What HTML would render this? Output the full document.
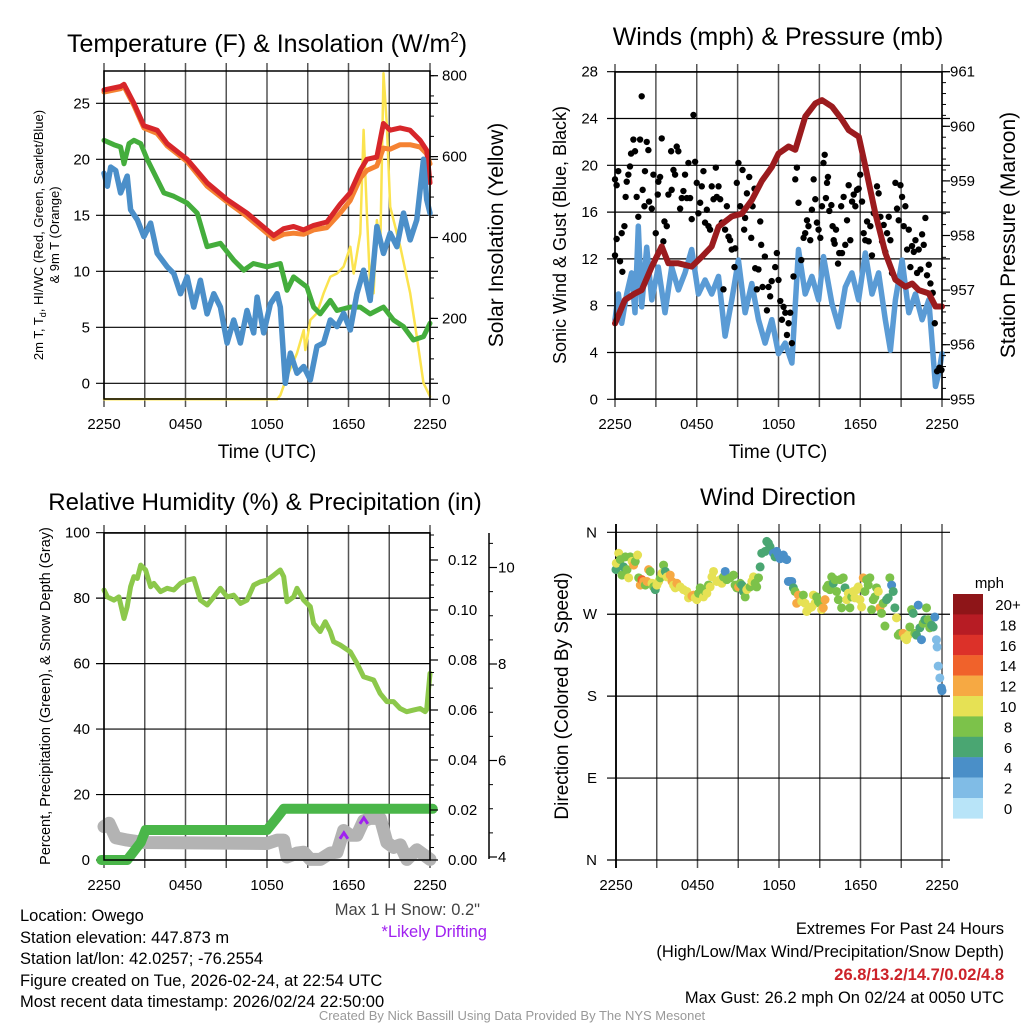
<!DOCTYPE html>
<html><head><meta charset="utf-8"><style>
html,body{margin:0;padding:0;background:#fff;}
svg{display:block;font-family:"Liberation Sans",sans-serif;}
.n{font-family:"Liberation Sans",sans-serif;}
</style></head><body>
<svg id="s" width="1024" height="1024" viewBox="0 0 1024 1024" xmlns="http://www.w3.org/2000/svg">
<g id="grid"></g><g id="marks"></g><g id="axes"></g>
<text x="267" y="52" font-size="25" text-anchor="middle">Temperature (F) &amp; Insolation (W/m<tspan font-size="15" dy="-10">2</tspan><tspan dy="10">)</tspan></text>
<text x="778" y="45" font-size="25" text-anchor="middle">Winds (mph) &amp; Pressure (mb)</text>
<text x="265" y="510" font-size="24" text-anchor="middle">Relative Humidity (%) &amp; Precipitation (in)</text>
<text x="778" y="505" font-size="24" text-anchor="middle">Wind Direction</text>
<text x="267" y="458" font-size="19" text-anchor="middle">Time (UTC)</text>
<text x="778" y="458" font-size="19" text-anchor="middle">Time (UTC)</text>
<g font-size="13" text-anchor="middle">
<text transform="translate(43,235) rotate(-90)">2m T, T<tspan font-size="9" dy="3">d</tspan><tspan dy="-3">, HI/WC (Red, Green, Scarlet/Blue)</tspan></text>
<text transform="translate(59,235) rotate(-90)">&amp; 9m T (Orange)</text></g>
<text transform="translate(503,235) rotate(-90)" font-size="21" text-anchor="middle">Solar Insolation (Yellow)</text>
<text transform="translate(566,235) rotate(-90)" font-size="18" text-anchor="middle">Sonic Wind &amp; Gust (Blue, Black)</text>
<text transform="translate(1015,235) rotate(-90)" font-size="21" text-anchor="middle">Station Pressure (Maroon)</text>
<text transform="translate(50,696) rotate(-90)" font-size="14.5" text-anchor="middle">Percent, Precipitation (Green), &amp; Snow Depth (Gray)</text>
<text transform="translate(568,696) rotate(-90)" font-size="19" text-anchor="middle">Direction (Colored By Speed)</text>
<text x="1004" y="588" font-size="15" text-anchor="end">mph</text>
<g class="n" font-size="16.5">
<text x="20" y="921">Location: Owego</text>
<text x="20" y="943">Station elevation: 447.873 m</text>
<text x="20" y="964">Station lat/lon: 42.0257; -76.2554</text>
<text x="20" y="986">Figure created on Tue, 2026-02-24, at 22:54 UTC</text>
<text x="20" y="1007">Most recent data timestamp: 2026/02/24 22:50:00</text>
<text x="480" y="915" fill="#444" text-anchor="end">Max 1 H Snow: 0.2"</text>
<text x="487" y="937" fill="#a020f0" text-anchor="end">*Likely Drifting</text>
<text x="1004" y="934" text-anchor="end">Extremes For Past 24 Hours</text>
<text x="1004" y="957" text-anchor="end">(High/Low/Max Wind/Precipitation/Snow Depth)</text>
<text x="1004" y="980" text-anchor="end" fill="#cc2229" font-weight="bold">26.8/13.2/14.7/0.02/4.8</text>
<text x="1004" y="1003" text-anchor="end">Max Gust: 26.2 mph On 02/24 at 0050 UTC</text>
<text x="512" y="1020" font-size="13" fill="#999" text-anchor="middle">Created By Nick Bassill Using Data Provided By The NYS Mesonet</text>
</g>
</svg>
<script>
// ---- data (hours since 2250 UTC) ----
const timeTicks=["2250","0450","1050","1650","2250"];
const tempTicks=[0,5,10,15,20,25];
const solarTicks=[0,200,400,600,800];
const windTicks=[0,4,8,12,16,20,24,28];
const presTicks=[955,956,957,958,959,960,961];
const rhTicks=[0,20,40,60,80,100];
const precTicks=["0.00","0.02","0.04","0.06","0.08","0.10","0.12"];
const snowTicks=[4,6,8,10];
const dirTicks=["N","W","S","E","N"];
const cbLabels=["20+","18","16","14","12","10","8","6","4","2","0"];
const cbColors=["#8e1518","#b71c24","#dc3129","#f0622b","#f6a943","#e6e154","#7cc24a","#4aa672","#4a8fc8","#80bce6","#b8e4f8"];

const redT=[0,1.22,1.47,2.2,2.94,3.92,4.65,6.12,7.59,9.06,10.53,12,12.49,13.22,13.96,14.69,15.43,16.41,17.39,18.12,18.86,19.35,20.08,20.57,21.06,21.8,22.53,23.27,23.76,24];
const redV=[26.2,26.5,26.7,25,23,22.6,21.4,20,17.9,16.4,15.2,13.7,13.2,13.8,14,13.7,14.1,14.4,16,17,19,20,20.2,23.2,22.6,22.8,22.6,21.7,20.8,17.9];
const orangeV=[26.0,26.3,26.5,24.8,22.8,22.3,21.2,19.8,17.6,16.2,14.9,13.4,12.9,13.3,13.4,13.3,13.7,13.9,15.2,16.3,18.3,19.0,19.4,21.0,20.9,21.3,21.3,21.1,20.5,19.6];
const greenT=[0,.73,1.22,1.47,1.84,2.2,2.7,3.18,3.67,4.41,5.14,6.12,6.86,7.59,8.57,9.55,10.29,11.0,12.0,12.98,13.47,13.96,14.94,15.43,15.92,16.66,17.15,18.13,18.86,19.6,20.58,21.31,22.05,22.78,23.52,24];
const greenV=[21.7,21.3,21.1,19.6,21.4,21.7,21.4,20,18.8,17,16.7,16.1,15.2,12.2,12.5,11,10.1,10.7,10.4,10.7,8.3,9.5,8.6,6.8,6.2,7.4,6.5,6.8,6.8,6.2,6.8,5.65,5.06,3.87,4.17,5.36];
const blueT=[0,.25,.49,.86,1.22,1.71,1.96,2.45,2.94,3.43,3.92,4.65,5.14,5.63,6.12,6.61,7.1,7.59,8.08,8.57,9.06,9.55,10.04,10.53,11.02,11.27,11.76,12.25,12.74,12.98,13.35,13.72,14.21,14.7,15.19,15.68,16.17,16.66,17.15,17.64,18.13,18.62,19.11,19.6,20.09,20.58,21.07,21.56,22.05,22.54,23.03,23.52,23.76,24];
const blueV=[18.75,17.6,19.3,19,17,18.5,15.5,14.6,13.1,14.3,11.6,10.4,9.8,8,9.5,6.8,9.2,6.2,8,6.8,3.6,5.65,3.6,6.5,4.5,7.7,4.5,7.1,8,6.8,0,2.7,0.9,1.5,0.3,3.3,3.6,5.65,5.06,6.25,4.76,8,10.1,7.4,14,11.6,13.4,12.2,15.2,12.8,14.6,20,16.4,15.2];
const solarT=[0,12.74,12.98,13.47,14.21,14.7,14.82,15.19,15.68,16.17,16.66,17.15,17.64,18.13,18.38,18.87,19.11,19.36,19.6,19.85,20.09,20.34,20.58,20.83,21.07,21.81,22.54,23.03,23.52,24];
const solarV=[0,0,10,56,114,171,122,196,213,262,303,311,328,377,311,410,666,452,278,262,443,377,806,674,476,377,262,155,40,7];

const presT=[0,.73,1.47,1.96,2.7,3.43,3.92,4.65,5.63,6.37,7.1,7.6,8.57,9.31,10.05,10.78,11.52,12.0,12.74,13.23,13.97,14.7,15.19,15.93,16.66,17.15,17.89,18.38,19.11,19.85,20.58,21.32,21.81,22.3,23.03,23.52,24];
const presV=[956.39,956.82,956.94,957.0,957.43,957.8,957.49,957.49,957.43,957.61,957.8,958.16,958.35,958.4,958.65,959.0,959.26,959.5,959.63,959.57,960.18,960.42,960.48,960.36,960.12,959.93,959.81,959.26,958.4,957.67,957.19,957.06,957.12,957.0,956.94,956.7,956.7];
const windT=[0,.25,.49,.86,1.22,1.47,1.71,1.96,2.33,2.7,3.18,3.67,4.16,4.65,5.14,5.63,6.12,6.61,7.1,7.6,8.08,8.57,9.06,9.55,10.04,10.53,11.02,11.51,12.0,12.49,12.98,13.47,13.96,14.45,14.94,15.3,15.92,16.41,16.9,17.39,17.88,18.37,18.86,19.35,19.84,20.21,20.58,21.07,21.56,22.05,22.54,23.03,23.52,23.76,24];
const windV=[6.8,9,6.5,9,10.8,7.4,14.8,7.9,13,8.5,11.3,7.4,11.3,9.35,10.8,12.8,9,10.2,9,10.5,5.4,8.5,11.9,7.4,9.9,6.8,4.8,6.8,3.9,4.8,3.1,12.8,9,10.5,8.5,12.2,8.2,6.2,9.6,10.8,8.5,12.5,9,10.8,6.8,4.2,8.5,11.9,7.4,9,6.8,8.5,1.1,2.2,3.9];
const gustT=[0,0,.12,.24,.12,.37,.54,.49,.69,.78,.86,.98,1.1,1.18,1.35,1.47,1.59,1.71,1.84,1.96,2.03,2.16,2.2,2.33,2.45,2.5,2.7,2.82,2.99,3.14,3.18,3.31,3.43,3.55,3.63,3.8,3.92,4.12,4.16,4.29,4.41,4.53,4.65,4.78,4.9,5.02,5.14,5.27,5.39,5.51,5.63,5.76,5.88,6.0,6.12,6.25,6.37,6.49,6.61,6.74,6.86,6.98,7.1,7.23,7.4,7.47,7.6,7.72,7.84,7.96,8.08,8.21,8.33,8.45,8.57,8.77,8.82,8.94,9.06,9.19,9.36,9.48,9.55,9.68,9.85,10.0,10.1,10.24,10.29,10.41,10.53,10.66,10.73,10.83,11.0,11.15,11.27,11.39,11.5,11.76,11.88,12.0,12.13,12.25,12.37,12.5,12.62,12.74,12.86,12.98,13.1,13.23,13.35,13.47,13.67,13.84,13.96,14.09,14.2,14.33,14.45,14.58,14.7,14.82,14.94,15.07,15.19,15.3,15.39,15.48,15.56,15.63,15.73,15.88,15.97,16.05,16.12,16.22,16.37,16.46,16.6,16.66,16.78,16.9,17.03,17.15,17.27,17.4,17.52,17.64,17.76,17.88,18.0,18.13,18.25,18.37,18.5,18.62,18.74,18.86,18.99,19.23,19.35,19.48,19.6,19.72,19.84,19.97,20.09,20.21,20.33,20.58,20.7,20.82,20.95,21.07,21.19,21.31,21.44,21.56,21.68,21.8,21.93,22.05,22.17,22.29,22.42,22.54,22.66,22.78,22.9,23.03,23.15,23.32,23.47,23.64,23.81,23.96];
const gustV=[12.3,18.8,18.3,19.5,13.7,11.8,10.9,14.2,14.8,17.3,18.6,19.2,19.9,21,22.2,21.2,17.3,15.6,22.2,25.9,17.9,16.5,19.5,22,21.3,16.9,16.3,19.2,14.2,17.5,18.6,19.0,22.3,13.5,15.2,14.8,17.5,21.2,17.9,19.6,19.2,21.6,21.2,16.3,17.2,17.8,19.2,17.2,20.2,17.2,15.4,24.3,20.3,18.5,15.9,16.8,18.2,19.5,15.1,16.2,14.8,14.5,18.2,17.1,19.8,17.3,18.2,17.1,15.1,9.4,14.5,16.5,13.9,13.6,12.8,11.3,12.9,18.5,20.2,16.5,19.6,14.5,15.5,17.6,19.0,13.8,16.5,18.0,11.2,9.4,11.1,15.2,13.2,9.6,12.2,7.6,9.6,8.8,10.1,11.3,12.5,10.2,8.4,6.8,7.9,7.4,5.5,6.5,7.4,4.8,10.5,18.8,19.8,16.8,11.9,13.8,14.2,15.3,14.8,13.6,16.2,18.8,17.1,15.1,14.5,13.8,16.5,20.2,20.9,17.2,18.5,19.0,16.1,16.6,14.8,13.6,13.3,14.5,11.6,12.5,16.5,12.5,17.3,13.2,15.3,18.3,13.6,16.9,17.5,16.5,17.9,18.0,19.2,16.9,14.2,13.6,15.2,13.5,14.8,12.3,15.9,18.2,17.6,15.6,13.5,14.9,12.6,14.2,15.6,13.6,10.8,18.5,16.3,15.3,18.3,17.3,14.8,16.5,12.8,14.5,11.3,13.1,12.6,13.6,10.8,12.8,11.1,14.1,13.2,15.5,10.6,11.5,9.9,9.1,6.5,2.4,2.7,2.5];

const rhT=[0,.25,.73,1.1,1.47,1.71,1.96,2.2,2.45,2.7,3.06,3.43,3.67,4.16,4.65,5.14,5.63,6.12,6.61,7.1,7.6,8.08,8.57,9.06,9.55,10.05,10.53,11.02,11.51,12.0,12.49,12.98,13.23,13.47,13.96,14.21,14.7,15.19,15.43,15.92,16.29,16.66,16.9,17.39,18.13,18.62,19.11,19.85,20.33,20.82,21.31,21.8,22.29,22.78,23.27,23.64,23.76,24];
const rhV=[82.5,80.4,79.4,80.4,73.8,77.4,83.5,86.6,86,90.1,88.6,83.5,84.5,82,83,82.5,84.5,85.5,86,79.4,77.9,80.4,83,80.4,80.9,78.4,79.4,84,85,85.5,87,88.6,86.6,78.9,80.4,83,79.4,77.4,72.3,69.8,72.8,69.8,66.7,65.7,63.6,60.1,56,55,50.9,48.4,48.4,46.3,45.3,45.8,46.3,45.3,46,57];
const precT=[-0.2,1.71,2.7,3.06,12.0,12.74,13.23,24.2];
const precV=[0,0,0.007,0.012,0.012,0.017,0.0205,0.0205];
const snowT=[0,.37,.86,1.71,2.94,12.0,12.74,13.23,13.47,14.21,14.7,15.19,15.93,16.66,17.15,17.64,18.13,18.62,19.11,19.6,20.34,20.83,21.32,21.81,22.3,23.03,23.52,24];
const snowV=[4.63,4.7,4.4,4.35,4.3,4.28,4.35,4.35,4.0,4.08,4.1,3.95,3.95,4.08,4.1,4.55,4.45,4.45,4.75,4.8,4.8,4.3,4.2,4.25,3.95,4.15,4.05,3.95];
const driftT=[17.66,19.13];
const driftV=[4.46,4.77];

const dirT=[0,.02,.2,.32,.44,.56,.69,.81,.93,1.05,1.18,1.3,1.42,1.59,1.67,1.79,1.91,2.03,2.16,2.28,2.4,2.52,2.65,2.77,2.89,3.01,3.14,3.26,3.38,3.5,3.63,3.75,3.99,4.12,4.24,4.36,4.48,4.73,4.97,5.22,5.34,5.59,5.71,5.83,5.95,6.08,6.2,6.32,6.44,6.57,6.69,6.81,6.93,7.06,7.18,7.42,7.67,7.79,7.91,8.04,8.16,8.4,8.65,8.77,8.89,9.02,9.14,9.26,9.38,9.51,9.63,9.75,9.87,10.0,10.12,10.24,10.36,10.49,10.61,10.73,10.98,11.1,11.22,11.34,11.59,11.71,11.83,11.96,12.08,12.32,12.45,12.57,12.69,12.81,12.94,13.06,13.18,13.3,13.43,13.67,13.79,13.92,14.04,14.28,14.41,14.53,14.65,14.77,14.9,15.02,15.14,15.26,15.39,15.51,15.63,15.75,15.88,16.0,16.12,16.24,16.37,16.49,16.61,16.73,16.86,16.98,17.1,17.22,17.35,17.47,17.59,17.71,17.84,17.96,18.08,18.2,18.33,18.45,18.57,18.69,18.82,18.94,19.06,19.18,19.31,19.43,19.55,19.67,19.8,19.92,20.04,20.16,20.29,20.41,20.53,20.65,20.78,20.9,21.02,21.14,21.27,21.39,21.51,21.63,21.76,21.88,22.0,22.12,22.25,22.37,22.49,22.61,22.74,22.86,22.98,23.1,23.23,23.35,23.47,23.59,23.64,23.72,23.84,23.96,24.0];
const dirDeg=[319,326,337,330,313,322,333,319,310,333,328,324,328,335,310,302,308,306,302,306,319,317,304,300,297,302,306,310,315,324,317,311,313,306,302,299,304,300,297,295,288,290,291,288,286,293,299,297,289,295,293,302,300,311,317,306,308,304,311,317,308,310,313,302,299,300,304,302,295,289,297,299,300,306,311,304,300,310,322,337,339,350,348,344,337,333,339,335,331,335,331,330,306,306,306,299,295,282,291,284,291,282,273,277,278,291,282,289,284,282,275,277,286,299,302,297,311,304,308,295,286,308,277,310,299,286,293,277,289,295,288,297,300,286,278,310,295,308,302,310,275,286,289,299,295,277,271,282,257,286,288,310,302,295,277,266,247,249,247,249,244,242,247,256,275,271,249,247,280,255,242,260,264,277,264,255,258,256,267,242,234,213,200,189,186];
const dirSpd=[6,10,10,8,8,6,8,8,10,8,10,12,8,10,8,12,14,12,8,12,12,8,10,8,6,10,10,8,10,8,6,10,12,12,10,10,12,10,10,10,10,12,12,10,10,8,8,8,10,8,10,8,10,10,10,10,10,10,8,4,8,8,8,8,8,12,8,6,6,8,10,10,8,10,10,8,8,8,6,6,6,6,6,6,4,6,4,4,4,4,4,4,4,4,4,6,8,12,12,10,8,10,10,10,10,10,10,8,8,8,10,12,12,8,8,8,8,6,8,8,8,8,8,8,6,10,10,8,8,10,10,10,10,10,10,12,8,8,8,8,8,8,8,8,10,12,8,8,8,6,6,8,4,6,6,10,8,8,8,12,10,10,10,8,8,6,8,6,4,6,4,8,6,8,8,8,6,6,4,2,2,2,2,4,4,4];

// ---- drawing ----
const NS="http://www.w3.org/2000/svg";
const G=document.getElementById('grid'),M=document.getElementById('marks'),A=document.getElementById('axes');
function mk(p,tag,at){const e=document.createElementNS(NS,tag);for(const k in at)e.setAttribute(k,at[k]);p.appendChild(e);return e;}
function lin(d0,d1,r0,r1){return v=>r0+(v-d0)/(d1-d0)*(r1-r0);}
function path(xs,ys,sx,sy){return xs.map((t,i)=>(i?'L':'M')+sx(t).toFixed(1)+','+sy(ys[i]).toFixed(1)).join('');}

function panel(x0,x1,y0,y1,nm){
  const sx=lin(0,24,x0,x1);
  for(let i=0;i<=8;i++){const x=sx(i*3);
    const l=mk(G,'line',{x1:x,x2:x,y1:y0-8,y2:y1+8,stroke:'#555','stroke-width':1.5});
    
    }
  timeTicks.forEach((s,i)=>{const t=mk(A,'text',{x:sx(i*6),y:y1+30,'font-size':15,'text-anchor':'middle'});t.textContent=s;
    
    });
  const b=mk(A,'rect',{x:x0,y:y0,width:x1-x0,height:y1-y0,fill:'none',stroke:'#000','stroke-width':1.5});
  
  
  return sx;
}
function hgrid(sy,vals,x0,x1,labels,lx,nm,right){
  vals.forEach((v,i)=>{const y=sy(v);
    const l=mk(G,'line',{x1:x0-8,x2:x1+(right?8:0),y1:y,y2:y,stroke:'#000','stroke-width':1.2});
    
    
    const t=mk(A,'text',{x:lx,y:y+5,'font-size':15,'text-anchor':'end'});t.textContent=labels[i];
    
    });
}
function rticks(sy,vals,labels,x,lx,nm,minorStep,lo,hi){
  for(let v=lo;v<=hi+1e-9;v+=minorStep){const y=sy(v);mk(A,'line',{x1:x,x2:x+4,y1:y,y2:y,stroke:'#000','stroke-width':1});}
  vals.forEach((v,i)=>{const y=sy(v);mk(A,'line',{x1:x,x2:x+8,y1:y,y2:y,stroke:'#000','stroke-width':1.2});
    const t=mk(A,'text',{x:lx,y:y+5,'font-size':15,'text-anchor':'start'});t.textContent=labels[i];
    
    });
}
function line(xs,ys,sx,sy,col,w,nm){const p=mk(M,'path',{d:path(xs,ys,sx,sy),fill:'none',stroke:col,'stroke-width':w,'stroke-linejoin':'round','stroke-linecap':'round'});
  
  }

// Panel 1
{const x0=104,x1=430,y0=71,y1=399;const sx=panel(x0,x1,y0,y1,'temp');
 const sy=lin(0,25,383.3,103.3);const ss=lin(0,800,399.3,75.7);
 hgrid(sy,tempTicks,x0,x1,tempTicks,90,'temp',true);
 rticks(ss,solarTicks,solarTicks,x1,442,'solar-y',50,0,800);
 line(solarT,solarV,sx,ss,'#fbe34f',2.5,'solar-line');
 line(redT,orangeV,sx,sy,'#f58232',5,'t9m-line');
 line(redT,redV,sx,sy,'#d7262a',5,'t2m-line');
 line(greenT,greenV,sx,sy,'#44ad3c',5,'dewpoint-line');
 line(blueT,blueV,sx,sy,'#4b8fc9',5.5,'windchill-line');}
// Panel 2
{const x0=615,x1=942,y0=72,y1=399;const sx=panel(x0,x1,y0,y1,'wind');
 const sy=lin(0,28,399.3,71.7);const sp=lin(955,961,399.3,71.7);
 hgrid(sy,windTicks,x0,x1,windTicks,598,'wind',true);
 rticks(sp,presTicks,presTicks,x1,950,'pressure-y',0.2,955,961);
 line(windT,windV,sx,sy,'#5a9bd5',5.5,'sonic-wind-line');
 gustT.forEach((t,i)=>{const c=mk(M,'circle',{cx:sx(t),cy:sy(gustV[i]),r:3.2,fill:'#000'});
   
   });
 line(presT,presV,sx,sp,'#9b1b1e',6,'pressure-line');}
// Panel 3
{const x0=104,x1=430,y0=533,y1=860;const sx=panel(x0,x1,y0,y1,'rh');
 const sy=lin(0,100,860,532.7);const spr=lin(0,0.02,860,810);const ssn=lin(4,6,857,760.5);
 hgrid(sy,rhTicks,x0,x1,rhTicks,90,'rh',false);
 rticks(spr,[0,0.02,0.04,0.06,0.08,0.10,0.12],precTicks,x1,448,'precip-y',0.005,0,0.13);
 mk(A,'line',{x1:489,x2:489,y1:533,y2:859,stroke:'#000','stroke-width':1.5});
 rticks(ssn,snowTicks,snowTicks,489,498,'snow-y',0.5,4,10.5);
 line(snowT,snowV,sx,ssn,'#b3b3b3',13,'snow-depth-line');
 line(precT,precV,sx,spr,'#4ab649',10,'precip-line');
 line(rhT,rhV,sx,sy,'#8cc84b',5,'rh-line');
 driftT.forEach((t,i)=>{const x=sx(t),y=ssn(driftV[i]);
   const p=mk(M,'path',{d:`M${x-4},${y+4}L${x},${y-2}L${x+4},${y+4}`,fill:'none',stroke:'#a020f0','stroke-width':3});
   
   });}
// Panel 4
{const x0=616,x1=942,y0=532,y1=860;const sx=panel(x0,x1,y0,y1,'dir');
 const sy=lin(0,360,860,532.3);
 const fr=A.lastChild;fr.setAttribute('stroke','none');
 [360,270,180,90,0].forEach((v,i)=>{const y=sy(v);
   const l=mk(G,'line',{x1:607,x2:950,y1:y,y2:y,stroke:'#000','stroke-width':1.2});
   
   
   const t=mk(A,'text',{x:597,y:y+5,'font-size':15,'text-anchor':'end'});t.textContent=dirTicks[i];
   
   });
 mk(G,'line',{x1:x0,x2:x0,y1:y0-8,y2:y1+8,stroke:'#000','stroke-width':1.8});
 dirT.forEach((t,i)=>{const bin=Math.min(10,Math.floor(dirSpd[i]/2));
   const c=mk(M,'circle',{cx:sx(t),cy:sy(dirDeg[i]),r:4.5,fill:cbColors[10-bin]});
   
   });
 cbLabels.forEach((s,i)=>{const y=594+i*20.4;
   const r=mk(A,'rect',{x:953,y:y,width:30,height:20.6,fill:cbColors[i]});
   
   
   const t=mk(A,'text',{x:1008,y:y+16,'font-size':15,'text-anchor':'middle'});t.textContent=s;
   
   });}
</script>
</body></html>
